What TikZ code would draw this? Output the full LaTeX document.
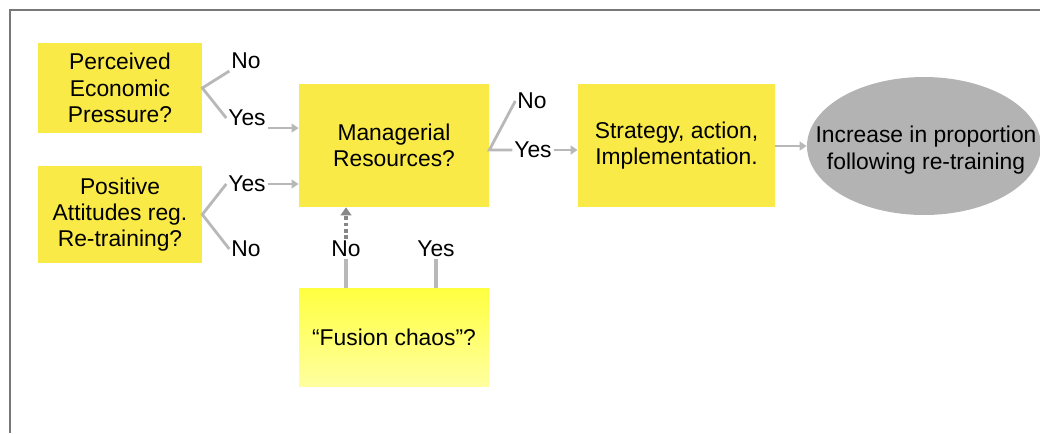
\documentclass[tikz,border=0pt]{standalone}
\usepackage{fontspec}
\setmainfont{Liberation Sans}
\usetikzlibrary{arrows.meta,shapes.geometric}
\definecolor{boxyellow}{RGB}{250,234,72}
\definecolor{fusiontop}{RGB}{255,255,64}
\definecolor{fusionbottom}{RGB}{255,255,160}
\definecolor{linegray}{RGB}{184,184,184}
\definecolor{ovalgray}{RGB}{179,179,179}
\definecolor{dotgray}{RGB}{135,135,135}
\definecolor{framegray}{RGB}{120,120,120}

\begin{document}
\begin{tikzpicture}[x=0.02cm,y=-0.02cm,
    font=\fontsize{13}{15}\selectfont,
    question/.style={fill=boxyellow,align=center,inner sep=0pt},
    answer/.style={inner sep=1pt},
    branch/.style={linegray,line width=1.6pt},
    flow/.style={linegray,line width=1.1pt,-{Triangle[length=4pt,width=5pt]}}]
    \useasboundingbox (0,0) rectangle (1040,433);
    % frame
    \draw[framegray,line width=0.6pt] (1040,10) -- (10,10) -- (10,433);
    % questions
    \node[question,minimum width=3.28cm,minimum height=1.8cm] (pressure) at (120,88) {Perceived\\Economic\\Pressure?};
    \node[question,minimum width=3.28cm,minimum height=1.94cm] (attitude) at (120,214.5) {Positive\\Attitudes reg.\\Re-training?};
    \node[question,minimum width=3.8cm,minimum height=2.46cm] (managerial) at (394,145.5) {Managerial\\Resources?};
    \node[question,minimum width=3.94cm,minimum height=2.46cm] (strategy) at (676.5,145.5) {Strategy, action,\\Implementation.};
    \node[question,minimum width=3.8cm,minimum height=1.98cm,top color=fusiontop,bottom color=fusionbottom] (fusion) at (394,337.5) {“Fusion chaos”?};
    % outcome (the text is wider than the oval, so it sits on top)
    \node[ellipse,fill=ovalgray,minimum width=4.68cm,minimum height=2.76cm,inner sep=0pt] (outcome) at (924,146) {};
    \node[align=center,inner sep=0pt] (outcometext) at (926,150) {Increase in proportion\\following re-training};
    % answers
    \node[answer] (pno) at (246,61) {No};
    \node[answer] (pyes) at (247,118) {Yes};
    \node[answer] (ayes) at (247,184) {Yes};
    \node[answer] (ano) at (246,249) {No};
    \node[answer] (mno) at (532,101) {No};
    \node[answer] (myes) at (533,150) {Yes};
    \node[answer] (fno) at (346,249) {No};
    \node[answer] (fyes) at (436,249) {Yes};
    % branches
    \draw[branch] (pno.south west) -- (pressure.east) -- (pyes.west);
    \draw[branch] (ayes.west) -- (attitude.east) -- (ano.west);
    \draw[branch] (mno.west) -- (managerial.east |- myes.west) -- (myes.west);
    \draw[branch,line width=2pt] (fno.south) -- (fno.south |- fusion.north);
    \draw[branch,line width=2pt] (fyes.south) -- (fyes.south |- fusion.north);
    % arrows
    \draw[flow] (pyes.south east) -- (pyes.south east -| managerial.west);
    \draw[flow] (ayes.east) -- (ayes.east -| managerial.west);
    \draw[flow] (myes.east) -- (myes.east -| strategy.west);
    \draw[flow] (strategy.east |- outcome.west) -- (outcome.west);
    \draw[dotgray,line width=2pt,dash pattern=on 2pt off 1.6pt,-{Triangle[length=4.5pt,width=6pt]}] (fno.north) -- (fno.north |- managerial.south);
\end{tikzpicture}
\end{document}
